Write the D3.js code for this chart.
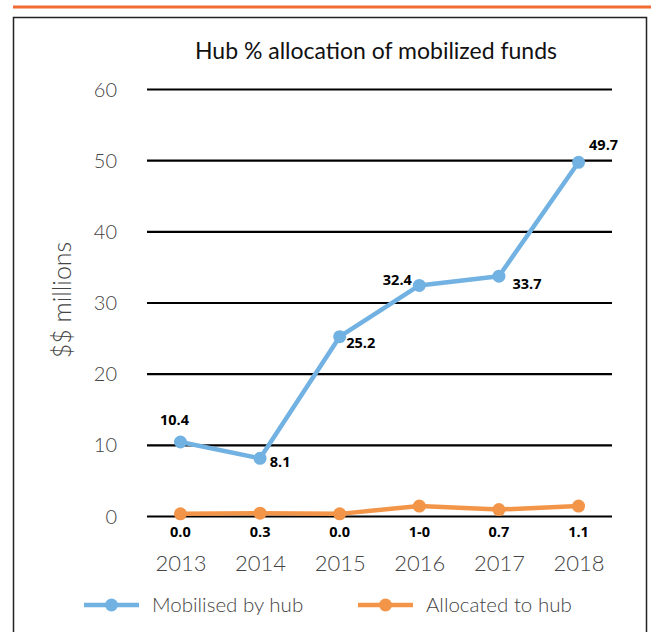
<!DOCTYPE html>
<html>
<head>
<meta charset="utf-8">
<script src="https://cdn.jsdelivr.net/npm/d3@7"></script>
<style>
  html, body { margin: 0; padding: 0; background: #fff; }
  svg { display: block; }
</style>
</head>
<body>
<svg id="chart" width="651" height="632"></svg>
<script>
// ---- data ----
const years = ["2013", "2014", "2015", "2016", "2017", "2018"];
const mobilised = [10.4, 8.1, 25.2, 32.4, 33.7, 49.7];
const mobilisedLabels = ["10.4", "8.1", "25.2", "32.4", "33.7", "49.7"];
const allocated = [0.3, 0.4, 0.3, 1.4, 0.9, 1.4];
const allocatedLabels = ["0.0", "0.3", "0.0", "1-0", "0.7", "1.1"];
const yTicks = [0, 10, 20, 30, 40, 50, 60];
const seriesNames = ["Mobilised by hub", "Allocated to hub"];

const BLUE = "#72b2e2";
const ORANGE = "#f39548";

const svg = d3.select("#chart");

// top rule and frame
svg.append("line").attr("x1", 13).attr("x2", 651).attr("y1", 7).attr("y2", 7)
  .attr("stroke", "#f26b35").attr("stroke-width", 3);
svg.append("rect").attr("x", 13.5).attr("y", 17.5).attr("width", 633).attr("height", 640)
  .attr("fill", "none").attr("stroke", "#222").attr("stroke-width", 1.5);

const x = d3.scalePoint().domain(years).range([147, 612]).padding(0.42);
const y = d3.scaleLinear().domain([0, 60]).range([516, 89]);

// title
svg.append("text").attr("x", 376).attr("y", 59).attr("text-anchor", "middle")
  .attr("font-family", "Lato, 'Open Sans', sans-serif").attr("font-weight", 400)
  .attr("font-size", 23)
  .attr("fill", "#111").text("Hub % allocation of mobilized funds");

// y axis (gridlines + labels)
const yAxis = d3.axisLeft(y).tickValues(yTicks).tickSize(-(612 - 147)).tickPadding(30);
const gy = svg.append("g").attr("transform", "translate(147,0)").call(yAxis);
gy.select(".domain").remove();
gy.selectAll(".tick line").attr("stroke", "#000").attr("stroke-width", 2.2);
gy.selectAll(".tick text").attr("font-family", "Lato, 'Open Sans', sans-serif")
  .attr("font-weight", 300)
  .attr("font-size", 20).attr("fill", "#444").attr("dy", "0.35em");

// x axis labels
const xAxis = d3.axisBottom(x).tickSize(0).tickPadding(0);
const gx = svg.append("g").attr("transform", "translate(0,558)").call(xAxis);
gx.select(".domain").remove();
gx.selectAll(".tick text").attr("font-family", "Lato, 'Open Sans', sans-serif")
  .attr("font-weight", 300)
  .attr("font-size", 22).attr("fill", "#444").attr("dy", "0.6em");

// y axis title
svg.append("text").attr("transform", "translate(71,300) rotate(-90)")
  .attr("text-anchor", "middle").attr("font-family", "Lato, 'Open Sans', sans-serif")
  .attr("font-weight", 300)
  .attr("font-size", 25).attr("fill", "#444").text("$$ millions");

// lines
const line = d3.line().x((d, i) => x(years[i])).y(d => y(d));
function drawSeries(vals, color) {
  svg.append("path").datum(vals).attr("d", line).attr("fill", "none")
    .attr("stroke", color).attr("stroke-width", 4.5).attr("stroke-linejoin", "round");
  svg.append("g").selectAll("circle").data(vals).join("circle")
    .attr("cx", (d, i) => x(years[i])).attr("cy", d => y(d)).attr("r", 6.5).attr("fill", color);
}
drawSeries(allocated, ORANGE);
drawSeries(mobilised, BLUE);

// data labels
const labelFont = "'Open Sans', 'DejaVu Sans', sans-serif";
const mobOffsets = [[-6, -22], [20, 4], [21, 6], [-22, -5], [28, 8], [25, -17]];
svg.append("g").selectAll("text").data(mobilised).join("text")
  .attr("x", (d, i) => x(years[i]) + mobOffsets[i][0])
  .attr("y", (d, i) => y(d) + mobOffsets[i][1])
  .attr("dy", "0.35em").attr("text-anchor", "middle")
  .attr("font-family", labelFont).attr("font-weight", "bold").attr("font-size", 14.5)
  .attr("fill", "#000").text((d, i) => mobilisedLabels[i]);

svg.append("g").selectAll("text").data(allocated).join("text")
  .attr("x", (d, i) => x(years[i]))
  .attr("y", 532)
  .attr("dy", "0.35em").attr("text-anchor", "middle")
  .attr("font-family", labelFont).attr("font-weight", "bold").attr("font-size", 14.5)
  .attr("fill", "#000").text((d, i) => allocatedLabels[i]);

// legend
const legendItems = [
  { name: seriesNames[0], color: BLUE, x: 84 },
  { name: seriesNames[1], color: ORANGE, x: 358 }
];
const lg = svg.append("g").selectAll("g").data(legendItems).join("g")
  .attr("transform", d => `translate(${d.x},605)`);
lg.append("line").attr("x1", 0).attr("x2", 55).attr("y1", 0).attr("y2", 0)
  .attr("stroke", d => d.color).attr("stroke-width", 4.5);
lg.append("circle").attr("cx", 27.5).attr("cy", 0).attr("r", 6.5).attr("fill", d => d.color);
lg.append("text").attr("x", 68).attr("y", 0).attr("dy", "0.35em")
  .attr("font-family", "Lato, 'Open Sans', sans-serif").attr("font-weight", 300)
  .attr("font-size", 20.5)
  .attr("fill", "#444").text(d => d.name);
</script>
</body>
</html>
